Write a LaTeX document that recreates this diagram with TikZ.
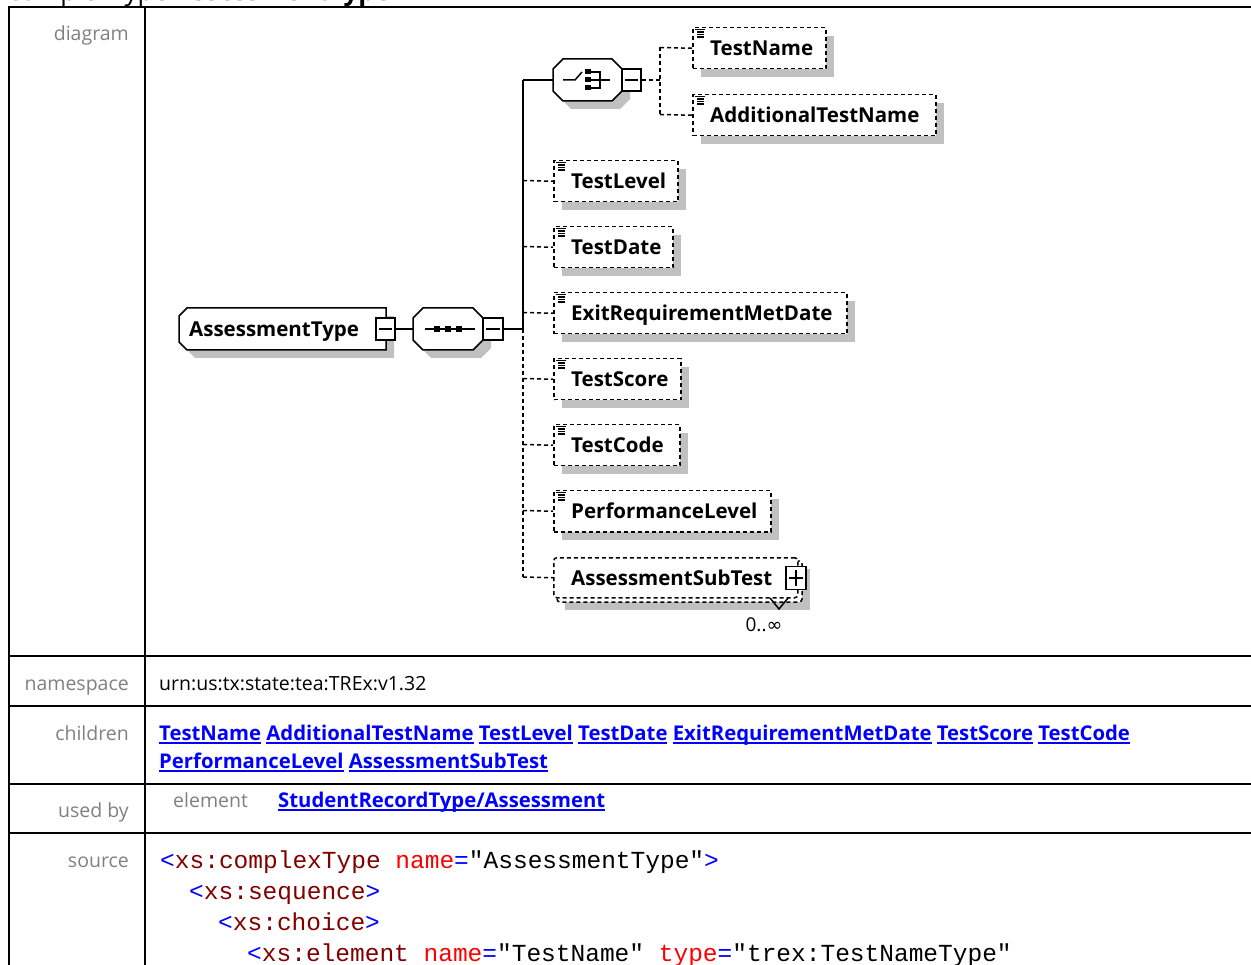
\documentclass[tikz,border=0pt]{standalone}
\usepackage{fontspec}
\setmainfont{Open Sans}
\newfontfamily\codefont{Liberation Mono}
\newfontfamily\symfont{DejaVu Sans}
\usetikzlibrary{shadows}
\definecolor{shadowgray}{HTML}{C0C0C0}
\definecolor{labelgray}{HTML}{808080}
\definecolor{linkblue}{HTML}{0000FF}
\definecolor{tagred}{HTML}{800000}
\definecolor{attrred}{HTML}{FF0000}
\newcommand\ulink[1]{\setbox0\hbox{#1}\rlap{\rule[-3.5pt]{\wd0}{1.3pt}}\box0\relax}
\newcommand\cB[1]{\textcolor{linkblue}{#1}}
\newcommand\cT[1]{\textcolor{tagred}{#1}}
\newcommand\cA[1]{\textcolor{attrred}{#1}}
\newcommand\xelem[5]{%
  \node[elbox, minimum width=#4pt, minimum height=41pt, anchor=north west] (#1) at (#2,#3) {};
  \node[eltext, anchor=west] (#1-t) at ([xshift=18pt]#1.west) {#5};
  \draw[iconline] (#2+3,#3+2.5) -- (#2+13,#3+2.5) (#2+5,#3+5) -- (#2+12,#3+5) (#2+5,#3+7.5) -- (#2+12,#3+7.5) (#2+5,#3+10) -- (#2+12,#3+10);
}
\begin{document}
\begin{tikzpicture}[x=1pt,y=-1pt,
  tableline/.style={line width=2.2pt, black},
  rowlabel/.style={text=labelgray, font=\fontsize{19.5}{23}\selectfont, inner sep=0pt, anchor=base east},
  plaintext/.style={font=\fontsize{19.5}{23}\selectfont, inner sep=0pt, anchor=base west},
  linktext/.style={text=linkblue, font=\fontsize{20.3}{24}\selectfont\bfseries, inner sep=0pt, anchor=base west},
  codetext/.style={font=\fontsize{24.5}{28}\codefont, inner sep=0pt, anchor=base west},
  elbox/.style={draw=black, line width=1.5pt, dash pattern=on 4pt off 3pt, fill=white, inner sep=0pt,
    drop shadow={shadow xshift=8pt, shadow yshift=-8pt, fill=shadowgray, opacity=1}},
  eltext/.style={font=\fontsize{20.5}{24}\selectfont\bfseries, inner sep=0pt, text height=18pt, text depth=3pt},
  iconline/.style={line width=1.1pt, black},
  conn/.style={line width=1.5pt, black},
  dconn/.style={conn, dash pattern=on 4pt off 3pt},
  signbox/.style={draw=black, line width=1.5pt, fill=white, minimum width=19pt, minimum height=22pt, inner sep=0pt},
  anchorbox/.style={draw=none, inner sep=0pt},
]
\useasboundingbox (0,0) rectangle (1251,965);
\clip (0,0) rectangle (1251,965);

% title (cut off at the top, as in the reference)
\node[font=\fontsize{26}{30}\selectfont, anchor=base west, inner sep=0pt] (title) at (8,1) {complexType \textbf{AssessmentType}};

% table frame
\draw[tableline] (9,966) -- (9,7) -- (1252,7);
\draw[tableline] (145,7) -- (145,966);
\draw[tableline] (9,656) -- (1252,656);
\draw[tableline] (9,706) -- (1252,706);
\draw[tableline] (9,784) -- (1252,784);
\draw[tableline] (9,833) -- (1252,833);

% row labels
\node[rowlabel] (lab-diagram) at (129,41) {diagram};
\node[rowlabel] (lab-namespace) at (129,690) {namespace};
\node[rowlabel] (lab-children) at (129,740) {children};
\node[rowlabel] (lab-usedby) at (129,817) {used by};
\node[rowlabel] (lab-source) at (129,867) {source};

% namespace
\node[plaintext] (ns) at (159,690) {urn:us:tx:state:tea:TREx:v1.32};

% children
\node[linktext] (ch1) at (159,740) {\ulink{TestName} \ulink{AdditionalTestName} \ulink{TestLevel} \ulink{TestDate} \ulink{ExitRequirementMetDate} \ulink{TestScore} \ulink{TestCode}};
\node[linktext] (ch2) at (159,768) {\ulink{PerformanceLevel} \ulink{AssessmentSubTest}};

% used by
\node[plaintext, text=labelgray] (ub-el) at (173,807) {element};
\node[linktext] (ub-link) at (278,807) {\ulink{StudentRecordType/Assessment}};

% source
\node[codetext] (src1) at (160,868) {\cB{<}\cT{xs:complexType} \cA{name}\cB{=}"AssessmentType"\cB{>}};
\node[codetext] (src2) at (189,899) {\cB{<}\cT{xs:sequence}\cB{>}};
\node[codetext] (src3) at (218,930) {\cB{<}\cT{xs:choice}\cB{>}};
\node[codetext] (src4) at (247,961) {\cB{<}\cT{xs:element} \cA{name}\cB{=}"TestName" \cA{type}\cB{=}"trex:TestNameType"};

% ===== diagram =====
% AssessmentType
\fill[shadowgray] (187+8,316) -- (394,316) -- (394,358) -- (187+8,358) -- (187,358-8) -- cycle;
\node[anchorbox, minimum width=207pt, minimum height=42pt] (AssessmentType) at (282.5,329) {};
\draw[conn, fill=white] (187,308) -- (386,308) -- (386,350) -- (187,350) -- (179,342) -- (179,316) -- cycle;
\node[eltext, anchor=west] (AssessmentType-t) at (189,329) {AssessmentType};
\node[signbox] (at-minus) at (385.5,329) {};
\draw[conn] ([xshift=4pt]at-minus.west) -- ([xshift=-4pt]at-minus.east);

% sequence
\fill[shadowgray] (431,316) -- (481,316) -- (491,326) -- (491,348) -- (481,358) -- (431,358) -- (421,348) -- (421,326) -- cycle;
\node[anchorbox, minimum width=70pt, minimum height=42pt] (seq) at (448,329) {};
\draw[conn, fill=white] (423,308) -- (473,308) -- (483,318) -- (483,340) -- (473,350) -- (423,350) -- (413,340) -- (413,318) -- cycle;
\draw[conn] (425,329) -- (475,329);
\fill (434,326) rectangle (440,332);
\fill (445,326) rectangle (451,332);
\fill (456,326) rectangle (462,332);
\node[signbox, minimum width=20pt] (seq-minus) at (493,329) {};
\draw[conn] ([xshift=4pt]seq-minus.west) -- ([xshift=-4pt]seq-minus.east);

% choice
\fill[shadowgray] (571,67) -- (620,67) -- (630,77) -- (630,99) -- (620,109) -- (571,109) -- (561,99) -- (561,77) -- cycle;
\node[anchorbox, minimum width=69pt, minimum height=42pt] (choice) at (587.5,80) {};
\draw[conn, fill=white] (563,59) -- (612,59) -- (622,69) -- (622,91) -- (612,101) -- (563,101) -- (553,91) -- (553,69) -- cycle;
\draw[conn] (563,80) -- (575,80) -- (582,72);
\fill (584.5,69.5) rectangle (590.5,74.5);
\fill (584.5,77.5) rectangle (590.5,82.5);
\fill (584.5,85.5) rectangle (590.5,90.5);
\draw[conn] (590,72) -- (600,72) -- (600,88) -- (590,88);
\draw[conn] (590,80) -- (610,80);
\node[signbox] (ch-minus) at (631.5,80) {};
\draw[conn] ([xshift=4pt]ch-minus.west) -- ([xshift=-4pt]ch-minus.east);

% elements
\xelem{TestName}{692}{27}{133}{TestName}
\xelem{AdditionalTestName}{692}{94}{243}{AdditionalTestName}
\xelem{TestLevel}{553}{160}{124}{TestLevel}
\xelem{TestDate}{553}{226}{119}{TestDate}
\xelem{ExitRequirementMetDate}{553}{292}{293}{ExitRequirementMetDate}
\xelem{TestScore}{553}{358}{127}{TestScore}
\xelem{TestCode}{553}{424}{126}{TestCode}
\xelem{PerformanceLevel}{553}{490}{217}{PerformanceLevel}

% AssessmentSubTest (repeated)
\fill[shadowgray] (565,569) rectangle (810,610);
\draw[conn, dash pattern=on 4pt off 3pt, fill=white, rounded corners=3pt] (557,561) rectangle (802,602);
\node[draw=black, line width=1.5pt, dash pattern=on 4pt off 3pt, fill=white, rounded corners=3pt, inner sep=0pt,
  minimum width=244pt, minimum height=40pt, anchor=north west] (AssessmentSubTest) at (553,557) {};
\node[eltext, anchor=west] (AssessmentSubTest-t) at ([xshift=18pt]AssessmentSubTest.west) {AssessmentSubTest};
\node[signbox, minimum width=20pt, minimum height=23pt] (sub-plus) at (796,578) {};
\draw[conn] ([xshift=4pt]sub-plus.west) -- ([xshift=-4pt]sub-plus.east);
\draw[conn] ([yshift=-4pt]sub-plus.north) -- ([yshift=4pt]sub-plus.south);
\draw[conn] (770,598) -- (779,609) -- (788,598);
\node[font=\fontsize{19}{21}\selectfont, anchor=base, inner sep=0pt] (occ) at (764,631) {0..{\symfont ∞}};

% connectors
\draw[conn] (at-minus.east) -- (seq.west);
\coordinate (bus-top) at (523,80);
\coordinate (bus-mid) at (523,329);
\coordinate (bus-bot) at (523,577);
\draw[conn] (seq-minus.east) -- (bus-mid);
\draw[conn] (bus-top) -- (bus-mid);
\draw[dconn] (bus-mid) -- (bus-bot);
\draw[conn] (bus-top) -- (choice.west);
\foreach \n/\yy in {TestLevel/180.5, TestDate/246.5, ExitRequirementMetDate/312.5, TestScore/378.5, TestCode/444.5, PerformanceLevel/510.5}{
  \coordinate (b-\n) at (523,\yy);
  \draw[dconn] (b-\n) -- (\n.west);
}
\draw[dconn] (bus-bot) -- (AssessmentSubTest.west);
\coordinate (cb-top) at (660,47.5);
\coordinate (cb-mid) at (660,80);
\coordinate (cb-bot) at (660,114.5);
\draw[dconn] (ch-minus.east) -- (cb-mid);
\draw[dconn] (cb-top) -- (cb-bot);
\draw[dconn] (cb-top) -- (TestName.west);
\draw[dconn] (cb-bot) -- (AdditionalTestName.west);
\end{tikzpicture}
\end{document}
